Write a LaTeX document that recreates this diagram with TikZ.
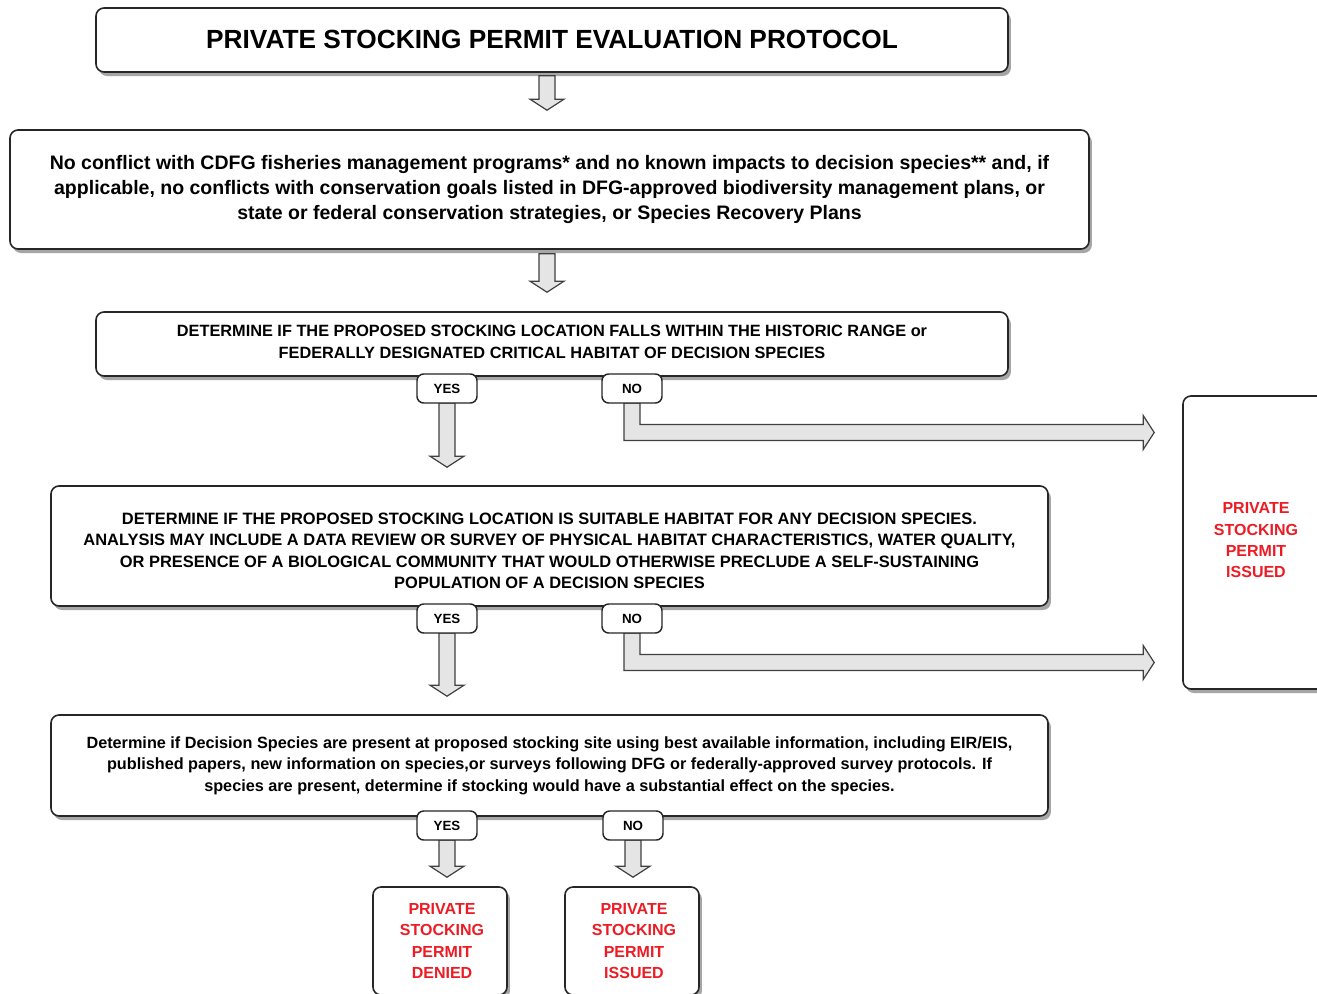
\documentclass[tikz,border=0pt]{standalone}
\usepackage{fontspec}
\setmainfont{Liberation Sans}
\usetikzlibrary{calc,shadows}
\definecolor{permred}{RGB}{237,28,36}
\tikzset{
  box/.style={draw=black!85, line width=1.2pt, rounded corners=6pt, fill=white,
    drop shadow={shadow xshift=2.2pt, shadow yshift=-3pt, fill=black!35, opacity=1},
    align=center, font=\bfseries, inner sep=0pt},
  boxtext/.style={align=center, inner sep=0pt},
  tab/.style={draw=black!85, line width=1.1pt, rounded corners=5pt, fill=white,
    minimum width=45pt, minimum height=21.75pt, inner sep=0pt,
    font=\bfseries\fontsize{10}{12}\selectfont},
  blk/.style={draw=black!75, fill=black!10, line width=0.9pt, line join=miter},
  redtxt/.style={text=permred, font=\bfseries\fontsize{12}{16}\selectfont}
}
\newcommand\vblk[2]{\draw[blk] let \p1=(#1), \p2=(#2) in
  (\x1-6pt,\y1) -- (\x1-6pt,\y2+8.25pt) -- (\x1-12.75pt,\y2+8.25pt) -- (\x1,\y2)
  -- (\x1+12.75pt,\y2+8.25pt) -- (\x1+6pt,\y2+8.25pt) -- (\x1+6pt,\y1) -- cycle;}
\newcommand\eblk[2]{\draw[blk] let \p1=(#1), \p2=(#2) in
  (\x1-6pt,\y1) -- (\x1-6pt,\y2-6pt) -- (\x2-8.25pt,\y2-6pt) -- (\x2-8.25pt,\y2-12.75pt)
  -- (\x2,\y2) -- (\x2-8.25pt,\y2+12.75pt) -- (\x2-8.25pt,\y2+6pt) -- (\x1+6pt,\y2+6pt)
  -- (\x1+6pt,\y1) -- cycle;}
\begin{document}
\begin{tikzpicture}[x=0.75pt,y=-0.75pt]
\useasboundingbox (0,0) rectangle (1317,993);
\fill[white] (0,0) rectangle (1317,993);
\clip (0,0) rectangle (1317,993);

\node[box, minimum width=684pt, minimum height=48pt, font=\bfseries\fontsize{19.7}{23}\selectfont]
  (title) at (552,40) {\raisebox{0.6pt}{PRIVATE STOCKING PERMIT EVALUATION PROTOCOL}};

\node[box, minimum width=809.25pt, minimum height=89.25pt, font=\bfseries\fontsize{14.63}{19}\selectfont]
  (box2) at (549.5,189.5) {No conflict with CDFG fisheries management programs* and no known impacts to decision species** and, if\\
  applicable, no conflicts with conservation goals listed in DFG-approved biodiversity management plans, or\\
  state or federal conservation strategies, or Species Recovery Plans};

\node[box, minimum width=684pt, minimum height=48pt] (box3) at (552,344) {};
\node[boxtext, font=\bfseries\fontsize{12.23}{16.5}\selectfont] (box3t) at ($(box3)+(0,-2)$)
  {DETERMINE IF THE PROPOSED STOCKING LOCATION FALLS WITHIN THE HISTORIC RANGE or\\
  FEDERALLY DESIGNATED CRITICAL HABITAT OF DECISION SPECIES};

\node[box, minimum width=747.75pt, minimum height=90pt] (box4) at (549.5,546) {};
\node[boxtext, font=\bfseries\fontsize{12.34}{16.1}\selectfont] (box4t) at ($(box4)+(0,5)$)
  {DETERMINE IF THE PROPOSED STOCKING LOCATION IS SUITABLE HABITAT FOR ANY DECISION SPECIES.\\
  ANALYSIS MAY INCLUDE A DATA REVIEW OR SURVEY OF PHYSICAL HABITAT CHARACTERISTICS, WATER QUALITY,\\
  OR PRESENCE OF A BIOLOGICAL COMMUNITY THAT WOULD OTHERWISE PRECLUDE A SELF-SUSTAINING\\
  POPULATION OF A DECISION SPECIES};

\node[box, minimum width=747.75pt, minimum height=75.75pt, font=\bfseries\fontsize{12.18}{16.1}\selectfont]
  (box5) at (549.5,765.5) {Determine if Decision Species are present at proposed stocking site using best available information, including EIR/EIS,\\
  published papers, new information on species,or surveys following DFG or federally-approved survey protocols. If\\
  species are present, determine if stocking would have a substantial effect on the species.};

\node[box, minimum width=109.5pt, minimum height=219.75pt] (right) at (1256,542.5) {};
\node[boxtext, redtxt] (rightt) at ($(right)+(0,-2)$) {PRIVATE\\STOCKING\\PERMIT\\ISSUED};
\node[box, redtxt, minimum width=100.5pt, minimum height=81pt] (denied) at (440,941)
  {\hspace*{3pt}PRIVATE\\\hspace*{3pt}STOCKING\\\hspace*{3pt}PERMIT\\\hspace*{3pt}DENIED};
\node[box, redtxt, minimum width=100.5pt, minimum height=81pt] (issued) at (632,941)
  {\hspace*{3pt}PRIVATE\\\hspace*{3pt}STOCKING\\\hspace*{3pt}PERMIT\\\hspace*{3pt}ISSUED};

% tab positions
\path (447,388.5) coordinate (yes1c) (632,388.5) coordinate (no1c)
      (447,618.5) coordinate (yes2c) (632,618.5) coordinate (no2c)
      (447,825.5) coordinate (yes3c) (633,825.5) coordinate (no3c);
\path ($(yes1c)+(0,14.5)$) coordinate (yes1b) ($(no1c)+(0,14.5)$) coordinate (no1b)
      ($(yes2c)+(0,14.5)$) coordinate (yes2b) ($(no2c)+(0,14.5)$) coordinate (no2b)
      ($(yes3c)+(0,14.5)$) coordinate (yes3b) ($(no3c)+(0,14.5)$) coordinate (no3b);

% block arrows
\vblk{$(title.south)+(-5,3)$}{$(box2.north)+(-2.5,-19)$}
\vblk{$(box2.south)+(-2.5,4)$}{$(box3.north)+(-5,-19)$}
\vblk{yes1b}{$(yes1b |- box4.north)+(0,-18)$}
\vblk{yes2b}{$(yes2b |- box5.north)+(0,-18)$}
\vblk{yes3b}{$(yes3b |- denied.north)+(0,-9)$}
\vblk{no3b}{$(no3b |- issued.north)+(0,-9)$}
\eblk{no1b}{$(right.west |- no1b)+(-28,29.5)$}
\eblk{no2b}{$(right.west |- no2b)+(-28,29.5)$}

% tabs
\node[tab] (yes1) at (yes1c) {YES};
\node[tab] (no1) at (no1c) {NO};
\node[tab] (yes2) at (yes2c) {YES};
\node[tab] (no2) at (no2c) {NO};
\node[tab] (yes3) at (yes3c) {YES};
\node[tab] (no3) at (no3c) {NO};
\end{tikzpicture}
\end{document}
